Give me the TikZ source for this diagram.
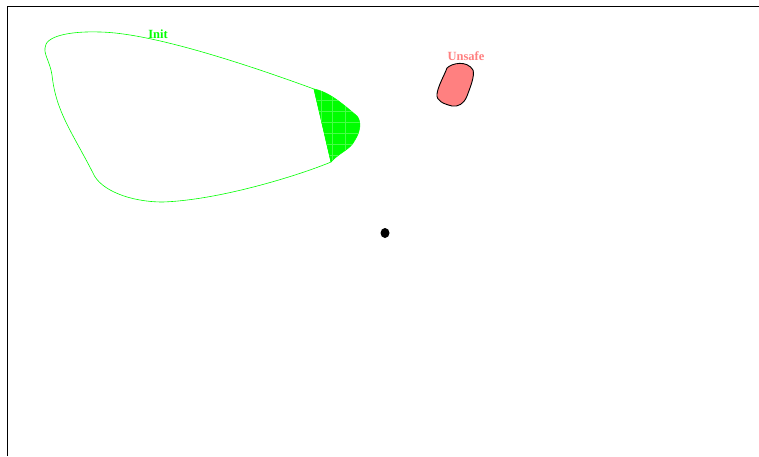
\documentclass[tikz,border=0pt]{standalone}
\usepackage{fontspec}
\setmainfont{Liberation Serif}
\usepackage{tikz}
\usetikzlibrary{calc}
\definecolor{initgreen}{RGB}{0,255,0}
\definecolor{unsafered}{RGB}{255,128,128}
\tikzset{
    frame line/.style={black, line width=0.9pt},
    init set/.style={color=initgreen, line width=0.6pt},
    reach set/.style={fill=initgreen, draw=initgreen, line width=0.5pt},
    reach grid/.style={white!28!initgreen, line width=0.2pt},
    unsafe set/.style={fill=unsafered, draw=black, line width=0.9pt},
    set label/.style={font=\fontsize{12.5}{14}\selectfont\bfseries, inner sep=0pt}
}

\begin{document}
\begin{tikzpicture}[x=1pt, y=-1pt]
    \useasboundingbox (0,0) rectangle (759,456);
    % frame
    \draw[frame line] (7,456) -- (7,6) -- (759,6);
    % initial set
    \coordinate (RA) at (314,89);
    \coordinate (RB) at (331,162);
    \draw[init set] (45,48) .. controls (45,36) and (70,31) .. (100,32)
        .. controls (150,33) and (240,62) .. (RA) -- (RB)
        .. controls (300,175) and (220,200) .. (163,202)
        .. controls (130,202) and (100,190) .. (93,173)
        .. controls (72,132) and (56,112) .. (52,75)
        .. controls (50,62) and (44,55) .. cycle;
    \node[set label, text=initgreen] (init) at (158,34) {Init};
    % reached part
    \filldraw[reach set] (RA) .. controls (330,92) and (345,106) .. (357,116)
        .. controls (362,122) and (360,132) .. (355,140)
        .. controls (350,150) and (340,152) .. (RB) -- cycle;
    \begin{scope}
        \clip (RA) .. controls (330,92) and (345,106) .. (357,116)
            .. controls (362,122) and (360,132) .. (355,140)
            .. controls (350,150) and (340,152) .. (RB) -- cycle;
        \foreach \gy in {100,111,122,133,144,155}
            \draw[reach grid] (300,\gy) -- (370,\gy);
        \foreach \gx in {321,332,345}
            \draw[reach grid] (\gx,80) -- (\gx,170);
    \end{scope}
    % unsafe set
    \filldraw[unsafe set] (447,68) .. controls (452,63) and (467,60) .. (473,70)
        .. controls (475,76) and (470,88) .. (467,96)
        .. controls (464,104) and (458,107) .. (452,106)
        .. controls (444,104) and (436,101) .. (437,94)
        .. controls (438,86) and (444,76) .. cycle;
    \node[set label, text=unsafered] (unsafe) at (466,56) {Unsafe};
    % state
    \fill[black] (385,233) ellipse (4.5 and 5);
\end{tikzpicture}
\end{document}
